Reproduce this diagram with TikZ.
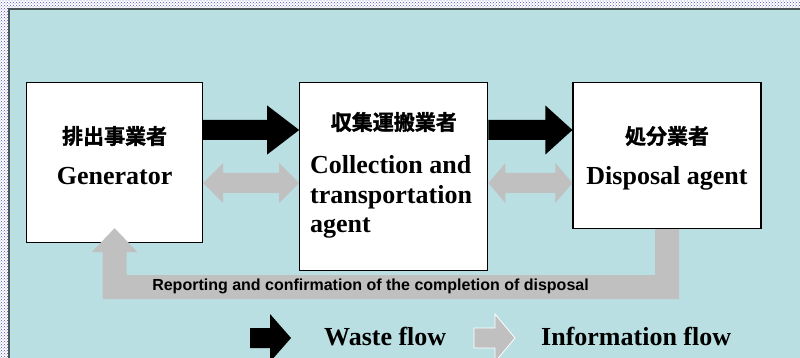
\documentclass[tikz,border=0pt]{standalone}
\usepackage{fontspec}
\setmainfont{Liberation Serif}
\newfontfamily\arialfont{Liberation Sans}
\newfontfamily\jpfont{Noto Sans CJK JP}[BoldFont={Noto Sans CJK JP Bold}, BoldFeatures={FakeBold=1.5}]
\usetikzlibrary{positioning,calc,patterns}
\definecolor{panelblue}{RGB}{185,223,226}
\definecolor{infogray}{RGB}{192,192,192}
\definecolor{framegray}{RGB}{75,85,85}
\definecolor{dotblue}{RGB}{80,80,190}
\tikzset{
    box/.style = {draw, rectangle, fill=white, line width=1.2pt,
        inner sep=0pt, anchor=north west},
    jplabel/.style = {font=\jpfont\bfseries\fontsize{21}{25}\selectfont, inner sep=0pt},
    enlabel/.style = {font=\bfseries\fontsize{26}{29.5}\selectfont, inner sep=0pt},
    reportlabel/.style = {font=\arialfont\bfseries\fontsize{16}{19}\selectfont, inner sep=0pt},
    wasteflow/.style = {fill=black},
    infoflow/.style = {fill=infogray},
    legendinfo/.style = {fill=infogray, draw=white, line width=0.8pt}
}
% fat arrow: [style]{from}{to}{shaft half}{head half}{head length}
\newcommand{\fatarrow}[6][]{%
    \path[#1] ($(#2)+(0,-#4)$) -- ($(#3)+(-#6,-#4)$) -- ($(#3)+(-#6,-#5)$) -- (#3)
        -- ($(#3)+(-#6,#5)$) -- ($(#3)+(-#6,#4)$) -- ($(#2)+(0,#4)$) -- cycle;
}
\newcommand{\fatdarrow}[6][]{%
    \path[#1] (#2) -- ($(#2)+(#6,-#5)$) -- ($(#2)+(#6,-#4)$) -- ($(#3)+(-#6,-#4)$)
        -- ($(#3)+(-#6,-#5)$) -- (#3) -- ($(#3)+(-#6,#5)$) -- ($(#3)+(-#6,#4)$)
        -- ($(#2)+(#6,#4)$) -- ($(#2)+(#6,#5)$) -- cycle;
}

\begin{document}
\begin{tikzpicture}[x=1pt, y=-1pt]
    \useasboundingbox (0,0) rectangle (800,358);
    \fill [white] (0,0) rectangle (800,358);
    \fill [pattern=crosshatch dots, pattern color=dotblue] (0,0) rectangle (800,358);
    \fill [panelblue] (9,9) rectangle (800,358);
    \draw [framegray, line width=2pt] (9,358) -- (9,9) -- (800,9);

    \node [box, minimum width=176pt, minimum height=160pt] (gen) at (26,82) {};
    \node [box, minimum width=188pt, minimum height=188pt, right=96pt of gen.north east, anchor=north west] (col) {};
    \node [box, minimum width=188pt, minimum height=146pt, right=84pt of col.north east, anchor=north west] (disp) {};

    \node [jplabel] (genjp) at ([yshift=-54pt]gen.north) {排出事業者};
    \node [enlabel, anchor=base] (genen) at ([yshift=-103pt]gen.north) {Generator};
    \node [jplabel] (coljp) at ([yshift=-40pt]col.north) {収集運搬業者};
    \node [enlabel, anchor=base west, align=left] (colen) at (310,233) {Collection and\\transportation\\agent};
    \node [jplabel] (dispjp) at ([yshift=-54pt]disp.north) {処分業者};
    \node [enlabel, anchor=base] (dispen) at ([yshift=-103pt]disp.north) {Disposal agent};

    \coordinate (w1a) at ([yshift=-48pt]gen.north east);
    \coordinate (w1b) at ([yshift=-48pt]col.north west);
    \coordinate (w2a) at ([yshift=-48pt]col.north east);
    \coordinate (w2b) at ([yshift=-48pt]disp.north west);
    \fatarrow[wasteflow]{w1a}{w1b}{10}{24.5}{32}
    \fatarrow[wasteflow]{w2a}{w2b}{10}{24.5}{27}

    \coordinate (i1a) at ([yshift=-101pt]gen.north east);
    \coordinate (i1b) at ([yshift=-101pt]col.north west);
    \coordinate (i2a) at ([yshift=-101pt]col.north east);
    \coordinate (i2b) at ([yshift=-101pt]disp.north west);
    \fatdarrow[infoflow]{i1a}{i1b}{10}{20}{20}
    \fatdarrow[infoflow]{i2a}{i2b}{10}{20}{17}

    \path [infoflow] ($(disp.south)+(12,0)$) -- ($(disp.south)+(12,70)$) -- ($(gen.south)+(-12,56)$)
        -- ($(gen.south)+(-12,9)$) -- ($(gen.south)+(-23,9)$) -- ($(gen.south)+(0,-15)$)
        -- ($(gen.south)+(23,9)$) -- ($(gen.south)+(12,9)$) -- ($(gen.south)+(12,32)$)
        -- ($(disp.south)+(-12,46)$) -- ($(disp.south)+(-12,0)$) -- cycle;
    \node [reportlabel] (report) at (370.5,286) {Reporting and confirmation of the completion of disposal};

    \coordinate (lwa) at (250,338);
    \coordinate (lwb) at (291,338);
    \fatarrow[wasteflow]{lwa}{lwb}{10}{24}{21}
    \node [enlabel, anchor=base west] (wastetext) at (324,345) {Waste flow};
    \coordinate (lia) at (474,338);
    \coordinate (lib) at (515,338);
    \fatarrow[legendinfo]{lia}{lib}{10}{24}{20}
    \node [enlabel, anchor=base west] (infotext) at (541,345) {Information flow};
\end{tikzpicture}
\end{document}
